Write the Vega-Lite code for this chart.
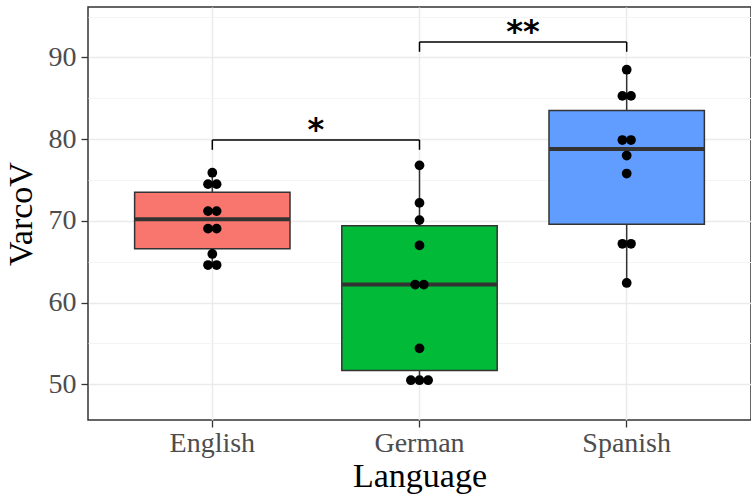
{
  "$schema": "https://vega.github.io/schema/vega-lite/v6.json",
  "width": 663,
  "height": 413,
  "autosize": {"type": "none"},
  "padding": {"left": 88, "top": 7, "right": 0, "bottom": 74},
  "background": "white",
  "config": {
    "view": {"stroke": "#333333", "strokeWidth": 1.5},
    "font": "Liberation Serif",
    "axis": {
      "domain": false,
      "tickColor": "#333333",
      "tickWidth": 1.3,
      "tickSize": 7,
      "labelFont": "Liberation Serif",
      "labelFontSize": 28,
      "labelColor": "#4D4D4D",
      "titleFont": "Liberation Serif",
      "titleFontSize": 34,
      "titleFontWeight": "normal",
      "titleColor": "#000000",
      "gridColor": "#EBEBEB",
      "gridWidth": 1.5
    }
  },
  "resolve": {"scale": {"xOffset": "independent"}},
  "datasets": {
    "dots": [
      {"Language": "English", "VarcoV": 75.9, "slot": 0},
      {"Language": "English", "VarcoV": 74.5, "slot": -0.5},
      {"Language": "English", "VarcoV": 74.5, "slot": 0.5},
      {"Language": "English", "VarcoV": 71.2, "slot": -0.5},
      {"Language": "English", "VarcoV": 71.2, "slot": 0.5},
      {"Language": "English", "VarcoV": 69.05, "slot": -0.5},
      {"Language": "English", "VarcoV": 69.05, "slot": 0.5},
      {"Language": "English", "VarcoV": 65.95, "slot": 0},
      {"Language": "English", "VarcoV": 64.6, "slot": -0.5},
      {"Language": "English", "VarcoV": 64.6, "slot": 0.5},
      {"Language": "German", "VarcoV": 76.8, "slot": 0},
      {"Language": "German", "VarcoV": 72.2, "slot": 0},
      {"Language": "German", "VarcoV": 70.1, "slot": 0},
      {"Language": "German", "VarcoV": 67.0, "slot": 0},
      {"Language": "German", "VarcoV": 62.2, "slot": -0.5},
      {"Language": "German", "VarcoV": 62.2, "slot": 0.5},
      {"Language": "German", "VarcoV": 54.4, "slot": 0},
      {"Language": "German", "VarcoV": 50.5, "slot": -1},
      {"Language": "German", "VarcoV": 50.5, "slot": 0},
      {"Language": "German", "VarcoV": 50.5, "slot": 1},
      {"Language": "Spanish", "VarcoV": 88.5, "slot": 0},
      {"Language": "Spanish", "VarcoV": 85.3, "slot": -0.5},
      {"Language": "Spanish", "VarcoV": 85.3, "slot": 0.5},
      {"Language": "Spanish", "VarcoV": 79.9, "slot": -0.5},
      {"Language": "Spanish", "VarcoV": 79.9, "slot": 0.5},
      {"Language": "Spanish", "VarcoV": 78.0, "slot": 0},
      {"Language": "Spanish", "VarcoV": 75.8, "slot": 0},
      {"Language": "Spanish", "VarcoV": 67.2, "slot": -0.5},
      {"Language": "Spanish", "VarcoV": 67.2, "slot": 0.5},
      {"Language": "Spanish", "VarcoV": 62.4, "slot": 0}
    ],
    "stats": [
      {"Language": "English", "min": 64.6, "q1": 66.6, "median": 70.2, "q3": 73.5, "max": 75.9},
      {"Language": "German", "min": 50.5, "q1": 51.7, "median": 62.2, "q3": 69.4, "max": 76.8},
      {"Language": "Spanish", "min": 62.4, "q1": 69.6, "median": 78.8, "q3": 83.5, "max": 88.5}
    ],
    "tips": [
      {"Language": "English", "y": 79.9, "y2": 78.7},
      {"Language": "German", "y": 79.9, "y2": 78.7},
      {"Language": "German", "y": 91.9, "y2": 90.7},
      {"Language": "Spanish", "y": 91.9, "y2": 90.7}
    ],
    "brackets": [
      {"from": "English", "to": "German", "y": 79.9, "label": "*"},
      {"from": "German", "to": "Spanish", "y": 91.9, "label": "**"}
    ]
  },
  "layer": [
    {
      "data": {"name": "stats"},
      "mark": {"type": "rule", "color": "#333333", "strokeWidth": 1.5},
      "encoding": {
        "x": {
          "field": "Language", "type": "nominal",
          "scale": {"domain": ["English", "German", "Spanish"], "paddingInner": 0.25, "paddingOuter": 0.225},
          "axis": {"labelAngle": 0, "grid": true, "title": "Language", "labelPadding": 2, "titleBaseline": "alphabetic", "titleY": 66}
        },
        "y": {
          "field": "min", "type": "quantitative",
          "scale": {"domain": [45.63, 96.18], "nice": false, "zero": false},
          "axis": {
            "title": "VarcoV",
            "values": [50, 55, 60, 65, 70, 75, 80, 85, 90, 95],
            "labelExpr": "datum.value % 10 === 0 ? datum.label : ''",
            "tickOpacity": {"condition": {"test": "datum.value % 10 !== 0", "value": 0}, "value": 1},
            "gridColor": {"condition": {"test": "datum.value % 10 !== 0", "value": "#F3F3F3"}, "value": "#EBEBEB"},
            "gridWidth": {"condition": {"test": "datum.value % 10 !== 0", "value": 0.9}, "value": 1.5},
            "labelPadding": 5,
            "titlePadding": 10
          }
        },
        "y2": {"field": "max"}
      }
    },
    {
      "data": {"name": "stats"},
      "mark": {"type": "bar", "stroke": "#333333", "strokeWidth": 1.5},
      "encoding": {
        "x": {"field": "Language", "type": "nominal"},
        "y": {"field": "q1", "type": "quantitative"},
        "y2": {"field": "q3"},
        "color": {
          "field": "Language", "type": "nominal",
          "scale": {"domain": ["English", "German", "Spanish"], "range": ["#F8766D", "#00BA38", "#619CFF"]},
          "legend": null
        }
      }
    },
    {
      "data": {"name": "stats"},
      "mark": {"type": "tick", "color": "#333333", "thickness": 4, "size": 155, "opacity": 1},
      "encoding": {
        "x": {"field": "Language", "type": "nominal"},
        "y": {"field": "median", "type": "quantitative"}
      }
    },
    {
      "data": {"name": "dots"},
      "mark": {"type": "circle", "color": "#000000", "size": 95, "opacity": 1},
      "encoding": {
        "x": {"field": "Language", "type": "nominal"},
        "xOffset": {"field": "slot", "type": "quantitative", "scale": {"domain": [-1, 1], "range": [69.1, 86.3]}},
        "y": {"field": "VarcoV", "type": "quantitative"}
      }
    },
    {
      "data": {"name": "tips"},
      "mark": {"type": "rule", "color": "#000000", "strokeWidth": 1.5},
      "encoding": {
        "x": {"field": "Language", "type": "nominal"},
        "y": {"field": "y", "type": "quantitative"},
        "y2": {"field": "y2"}
      }
    },
    {
      "data": {"name": "brackets"},
      "mark": {"type": "rule", "color": "#000000", "strokeWidth": 1.5},
      "encoding": {
        "x": {"field": "from", "type": "nominal"},
        "x2": {"field": "to"},
        "y": {"field": "y", "type": "quantitative"}
      }
    },
    {
      "data": {"name": "brackets"},
      "mark": {"type": "text", "font": "DejaVu Sans", "fontSize": 32, "fontWeight": "bold", "baseline": "alphabetic", "align": "center", "dx": 103.6, "color": "#000000"},
      "encoding": {
        "x": {"field": "from", "type": "nominal"},
        "y": {"field": "y", "type": "quantitative"},
        "text": {"field": "label"}
      }
    }
  ]
}
